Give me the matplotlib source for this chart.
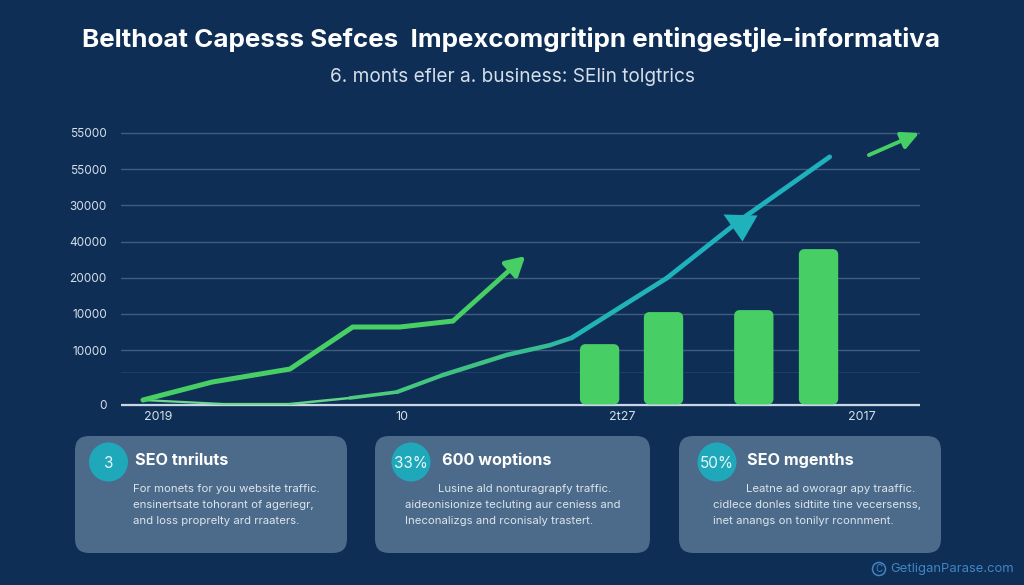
import matplotlib
matplotlib.use('Agg')
import matplotlib.pyplot as plt
from matplotlib.patches import FancyBboxPatch, Circle

plt.rcParams['font.family'] = ['Inter', 'DejaVu Sans']

BG = '#0e2e55'
GREEN = '#47cf66'
TEAL = '#1fb2bd'
CARD = '#4c6a89'
BUBBLE = '#1fa8ba'

title = 'Belthoat Capesss Sefces  Impexcomgritipn entingestjle-informativa'
subtitle = '6. monts efler a. business: SElin tolgtrics'
watermark = 'GetliganParase.com'

# y axis labels are not in order in the source, so they sit on their own positions
y_ticks = [0, 15000, 25000, 35000, 45000, 55000, 65000, 75000]
y_labels = ['0', '10000', '10000', '20000', '40000', '30000', '55000', '55000']
x_ticks = [4.6, 35.2, 62.7, 92.7]
x_labels = ['2019', '10', '2t27', '2017']

upper_x = [2.75, 11.4, 21.15, 29.0, 34.9, 41.55]
upper_y = [1240, 6200, 9800, 21400, 21400, 23060]
upper_tip = (50.6, 41000)

lower_x = [2.75, 12.77, 21.15, 28.66, 34.54, 40.3, 48.3, 53.7, 56.4, 68.3, 77.5, 88.7]
lower_y = [1240, 140, 140, 1800, 3450, 8150, 13700, 16400, 18400, 34900, 50950, 68400]
lower_colors = ['#6fd88c', '#6fd88c', '#62d488', '#4ecb7c', '#45c67f', '#3fc184', '#38bd90',
                '#2fb8a2', '#22b3b8', TEAL, TEAL]
lower_widths = [1.6, 1.6, 1.8, 2.6, 3.0, 3.2, 3.2, 3.2, 3.4, 3.4, 3.4]

marker_pt = (77.47, 49160)
side_arrow = [(93.6, 68900), (99.9, 75000)]

bar_x = [59.9, 67.9, 79.2, 87.3]
bar_y = [16700, 25550, 26100, 42950]

card_titles = ['SEO tnriluts', '600 woptions', 'SEO mgenths']
card_badges = ['3', '33%', '50%']
card_lines = [
    ['For monets for you website traffic.', 'ensinertsate tohorant of ageriegr,', 'and loss proprelty ard rraaters.'],
    ['Lusine ald nonturagrapfy traffic.', 'aideonisionize tecluting aur ceniess and', 'Ineconalizgs and rconisaly trastert.'],
    ['Leatne ad oworagr apy traaffic.', 'cidlece donles sidtiite tine vecersenss,', 'inet anangs on tonilyr rconnment.'],
]

fig = plt.figure(figsize=(10.24, 5.85), dpi=100, facecolor=BG)

# chart area, 121-920 px across and 120-410 px down
ax = fig.add_axes([121 / 1024, (585 - 410) / 585, 799 / 1024, 290 / 585])
ax.set_facecolor('none')
ax.set_xlim(0, 100)
ax.set_ylim(-1519, 78580)
for s in ax.spines.values():
    s.set_visible(False)
ax.set_yticks(y_ticks)
ax.set_yticklabels(y_labels, color='#d5dfea', fontsize=8.5)
ax.set_xticks(x_ticks)
ax.set_xticklabels(x_labels, color='#d5dfea', fontsize=9)
ax.tick_params(axis='y', length=0, pad=10.2)
ax.tick_params(axis='x', length=0, pad=1)
ax.grid(axis='y', color='#3f5d80', lw=1)
ax.set_axisbelow(True)
ax.axhline(9090, color='#1c3d64', lw=0.8, zorder=0)
ax.axhline(0, color='#c9d6e6', lw=1.6, zorder=2)

# rounded bars, the aspect keeps the corners round in screen space
for x, y in zip(bar_x, bar_y):
    ax.add_patch(FancyBboxPatch((x - 2.2, 600), 4.4, y - 1200,
                                boxstyle='round,pad=0,rounding_size=0.45', mutation_aspect=2210,
                                fc=GREEN, ec=GREEN, lw=3, zorder=3))

for i in range(len(lower_x) - 1):
    ax.plot(lower_x[i:i + 2], lower_y[i:i + 2], color=lower_colors[i], lw=lower_widths[i],
            solid_capstyle='round', zorder=4, clip_on=False)
ax.plot(marker_pt[0], marker_pt[1], marker=[(-17, 13), (17, 12), (2, -14)], ms=24.5,
        color=TEAL, mec='none', zorder=5)

ax.plot(upper_x, upper_y, color=GREEN, lw=3.6, solid_joinstyle='miter', solid_capstyle='round', zorder=5)
ax.annotate('', xy=upper_tip, xytext=(upper_x[-1], upper_y[-1]), zorder=5,
            arrowprops=dict(arrowstyle='-|>,head_length=0.75,head_width=0.42', color=GREEN, lw=3.4,
                            mutation_scale=15, shrinkA=0, shrinkB=0))
ax.annotate('', xy=side_arrow[1], xytext=side_arrow[0], zorder=5,
            arrowprops=dict(arrowstyle='-|>,head_length=0.8,head_width=0.4', color=GREEN, lw=2.8,
                            mutation_scale=13, shrinkA=0, shrinkB=0, capstyle='round'))

# page layer in pixels, for title, cards and watermark
page = fig.add_axes([0, 0, 1, 1])
page.set_xlim(0, 1024)
page.set_ylim(585, 0)
page.axis('off')
page.patch.set_alpha(0)

page.text(510.5, 40, title, color='white', fontsize=18.7, fontweight='bold', ha='center', va='center')
page.text(512, 76.5, subtitle, color='#d5dfea', fontsize=13.7, ha='center', va='center')

card_left = [75, 375, 679]
card_right = [347, 650, 941]
badge_x = [108.5, 411, 717]
head_x = [135, 442, 747]
line_x = [[133, 133, 133], [438, 405, 405], [746, 713, 713]]
line_y = [489, 505, 521]

for i in range(3):
    page.add_patch(FancyBboxPatch((card_left[i], 436), card_right[i] - card_left[i], 117,
                                  boxstyle='round,pad=0,rounding_size=14', fc=CARD, ec='none'))
    page.add_patch(Circle((badge_x[i], 462), 19.5, fc=BUBBLE, ec='none'))
    page.text(badge_x[i], 463, card_badges[i], color='#e6f7fa', fontsize=11, ha='center', va='center')
    page.text(head_x[i], 460.5, card_titles[i], color='white', fontsize=11.7, fontweight='bold', va='center')
    for j in range(3):
        page.text(line_x[i][j], line_y[j], card_lines[i][j], color='#dbe5ee', fontsize=8.2, va='center')

page.add_patch(Circle((879, 569), 6.5, fc='none', ec='#3f86c4', lw=1.1))
page.text(879, 569, 'C', color='#3f86c4', fontsize=7, ha='center', va='center')
page.text(890, 569, watermark, color='#3f86c4', fontsize=9.4, va='center')

fig.savefig('out.png', dpi=100, facecolor=BG)
